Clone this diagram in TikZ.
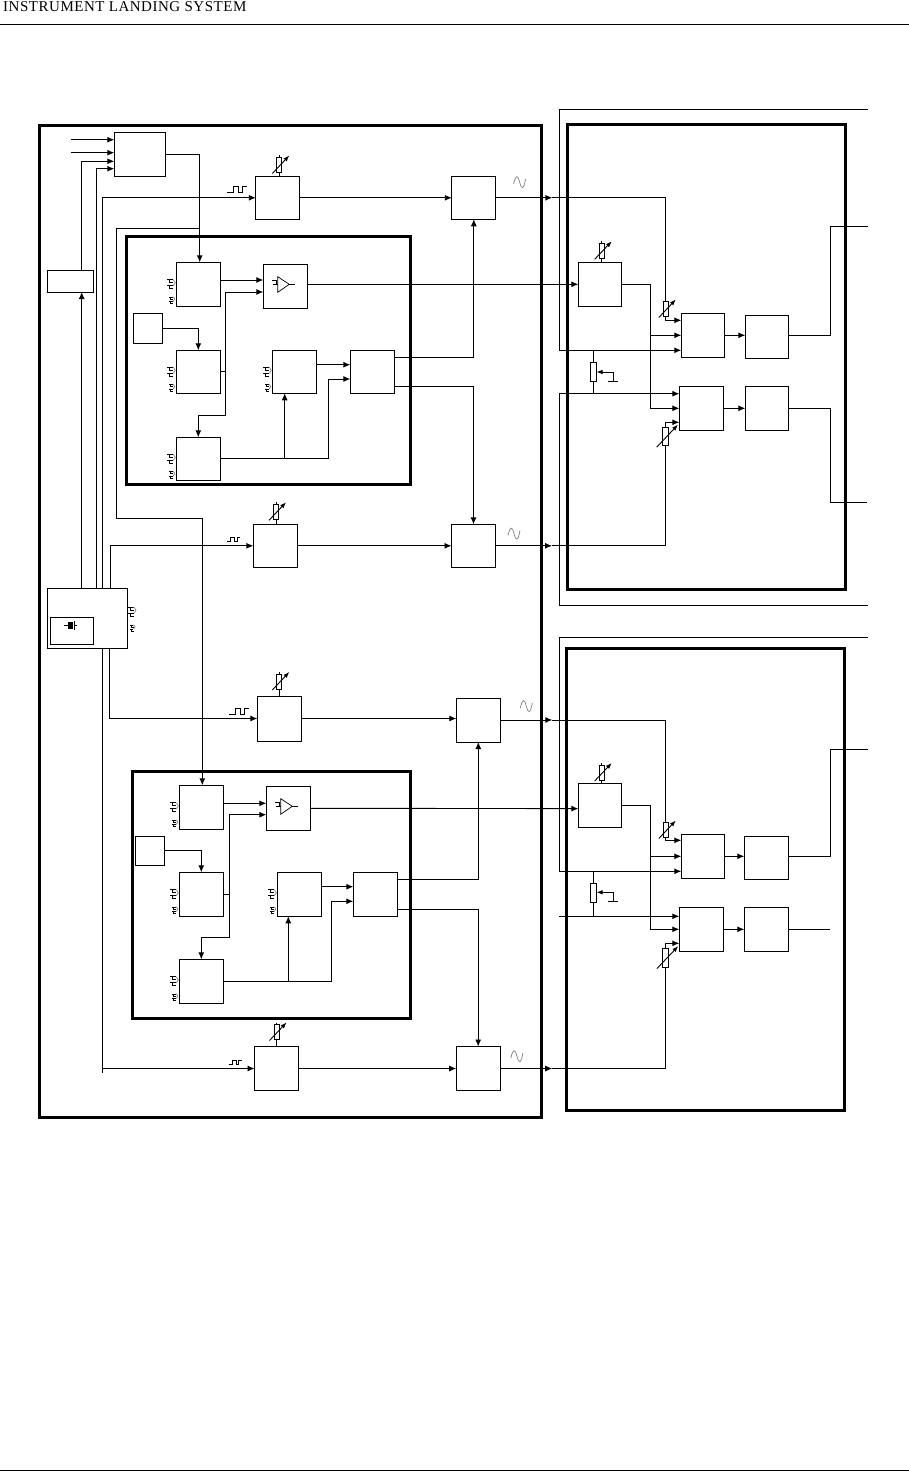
\documentclass[tikz,border=0pt]{standalone}
\usepackage{fontspec}
\setmainfont{Liberation Serif}
\usetikzlibrary{arrows.meta,positioning}

\begin{document}
\begin{tikzpicture}[
        x=1pt,
        y=-1pt,
        blockbox/.style={
            draw,
            line width=0.9pt,
            inner sep=0pt,
            outer sep=0pt,
            minimum width=44pt,
            minimum height=44pt
        },
        potbox/.style={
            draw,
            line width=0.9pt,
            inner sep=0pt,
            outer sep=0pt,
            minimum width=6.4pt,
            minimum height=19pt
        },
        wire/.style={line width=0.9pt},
        arrow/.style={wire, -{Latex[length=7pt, width=6pt]}},
        tinyarrow/.style={wire, -{Latex[length=6pt, width=4.5pt]}},
        glyph/.style={line width=0.7pt},
        frame/.style={line width=3pt},
        pagerule/.style={line width=1pt},
        pics/varres/.style={code={
            \draw[wire] (-2.5,-7.5) rectangle (2.5,7.5);
            \draw[wire] (0,-9.5) -- (0,-7.5) (0,7.5) -- (0,9.5);
            \draw[tinyarrow] (-7,8.5) -- (10,-9.5);
            \coordinate (-top) at (0,-9.5);
            \coordinate (-bot) at (0,9.5);
        }},
        pics/ampmark/.style={code={
            \draw[glyph] (-7.6,-9.6) -- (-7.6,6) -- (4,-2) -- cycle;
            \draw[glyph] (4,-2) -- (10,-2);
            \draw[glyph] (-13.5,-5.5) -- (-8.5,-5.5) -- (-8.5,-1.5) (-12,-2) -- (-7.6,-2);
        }},
        pics/pulsemark/.style={code={
            \draw[glyph] (-4,-4.5) -- (1.5,-4.5) -- (-2,-4.5) (-2,-4.5) -- (-2,-1.5) -- (2,-1.5) (-4,1.5) -- (1.5,1.5) (-2,1.5) -- (-2,4.5) -- (2,4.5);
            \draw[glyph, gray] (2,-4.5) -- (4,-1.5) -- (2,1.5);
        }},
        pics/pulsewave/.style={code={
            \draw[glyph] (0,6) -- (6,6) -- (6,0) -- (11,0) -- (11,6) -- (15,6) -- (15,0) -- (20,0);
        }},
        pics/sinemark/.style={code={
            \draw[glyph, gray] (0,2) .. controls (2,-7) and (4,-8) .. (6,0) .. controls (8,8) and (10,8) .. (12,-3);
        }},
        pics/crystal/.style={code={
            \fill (-2.3,-3.3) rectangle (2.7,3.4);
            \draw[wire] (-6,0) -- (-2.3,0) (4.5,-4.5) -- (4.5,4.5) (4.5,0) -- (7,0);
        }}
    ]
        \useasboundingbox (0,0) rectangle (909,1471);

        \node[anchor=base west, inner sep=0pt, font={\fontspec{Liberation Serif}[LetterSpace=3.5]\fontsize{15}{17}\selectfont}] (pagehead) at (3,11.5) {INSTRUMENT LANDING SYSTEM};
        \coordinate (ruleTopL) at (0,24.5);
        \coordinate (ruleTopR) at (909,24.5);
        \coordinate (ruleLowL) at (0,1470);
        \coordinate (ruleLowR) at (909,1470);
        \draw[pagerule] (ruleTopL) -- (ruleTopR);
        \draw[pagerule] (ruleLowL) -- (ruleLowR);

        \draw[frame] (39.3,125.3) rectangle (541.5,1117.3);
        \draw[frame] (126.7,236.7) rectangle (410.7,484.3);
        \draw[frame] (132.3,771.7) rectangle (410.7,1018);
        \draw[frame] (567.3,124.3) rectangle (845.7,589.3);
        \draw[frame] (566.5,648.3) rectangle (844.7,1110);

        \node[blockbox, minimum width=51pt] (logic) at (139.8,154.3) {};
        \node[blockbox, minimum width=46pt, minimum height=22pt] (select) at (70.3,281) {};
        \node[blockbox, minimum width=80.4pt, minimum height=60pt] (clock) at (87.5,618.3) {};
        \node[blockbox, minimum width=43pt, minimum height=27pt] (xtal) at ([xshift=-15.7pt,yshift=-12.5pt]clock.center) {};

        \node[blockbox, minimum height=43pt] (modA) at (277.8,197.8) {};
        \node[blockbox, minimum height=43pt, right=152pt of modA] (ampA) {};
        \node[blockbox, minimum height=43pt] (modB) at (275.3,545.8) {};
        \node[blockbox, minimum height=43pt, right=154.2pt of modB] (ampB) {};
        \node[blockbox, minimum height=45pt] (modC) at (279.3,718.5) {};
        \node[blockbox, right=155pt of modC, yshift=-1.5pt] (ampC) {};
        \node[blockbox] (modD) at (276.5,1068.5) {};
        \node[blockbox, right=157.7pt of modD] (ampD) {};

        \node[blockbox] (a1) at (198.3,284.3) {};
        \node[blockbox, right=43pt of a1, yshift=-2pt] (a2) {};
        \node[blockbox, minimum height=43pt, below=44pt of a1] (a4) {};
        \node[blockbox, minimum height=43pt, below=44pt of a4] (a7) {};
        \node[blockbox, minimum width=29pt, minimum height=30pt, left=14pt of a4, yshift=43.5pt] (a3) {};
        \node[blockbox, minimum height=43pt, right=52pt of a4] (a5) {};
        \node[blockbox, minimum height=43pt, right=34pt of a5] (a6) {};

        \node[blockbox] (b1) at (201.3,807.3) {};
        \node[blockbox, right=43pt of b1, yshift=-1pt] (b2) {};
        \node[blockbox, below=43pt of b1] (b4) {};
        \node[blockbox, below=43pt of b4] (b7) {};
        \node[blockbox, minimum width=29pt, minimum height=29pt, left=15pt of b4, yshift=43.5pt] (b3) {};
        \node[blockbox, right=54pt of b4] (b5) {};
        \node[blockbox, right=32pt of b5] (b6) {};

        \node[blockbox, minimum width=43pt] (gainA) at (599.8,284.3) {};
        \node[blockbox, minimum width=43pt] (mixA) at (702.8,335.3) {};
        \node[blockbox, minimum width=43pt, minimum height=43pt, right=21pt of mixA, yshift=-1.5pt] (outA) {};
        \node[blockbox] (mixB) at (701.3,408.3) {};
        \node[blockbox, minimum width=43pt, right=22pt of mixB] (outB) {};
        \node[blockbox, minimum width=43pt] (gainB) at (599.8,805.3) {};
        \node[blockbox, minimum width=43pt] (mixC) at (702.8,856.3) {};
        \node[blockbox, minimum height=43pt, right=20pt of mixC, yshift=-1.5pt] (outC) {};
        \node[blockbox] (mixD) at (701.3,929.3) {};
        \node[blockbox, right=21pt of mixD] (outD) {};

        \pic (rbB) at ([xshift=1.5pt,yshift=11.3pt]modA.north) {varres};
        \pic (rbD) at ([xshift=0.7pt,yshift=12.5pt]modB.north) {varres};
        \pic (rbH) at ([yshift=14.5pt]modC.north) {varres};
        \pic (rbL) at ([yshift=14.5pt]modD.north) {varres};
        \pic (rbE) at ([xshift=1.9pt,yshift=11.5pt]gainA.north) {varres};
        \pic (rbM) at ([xshift=1.9pt,yshift=10.8pt]gainB.north) {varres};
        \pic (rbFa) at ([xshift=-15.5pt,yshift=26.3pt]mixA.west) {varres};
        \pic (rbNa) at ([xshift=-15.5pt,yshift=26.3pt]mixC.west) {varres};
        \pic[scale=1.25] (rbFb) at ([xshift=-13.8pt,yshift=-28.2pt]mixB.west) {varres};
        \pic[scale=1.25] (rbNb) at ([xshift=-13.6pt,yshift=-28.7pt]mixD.west) {varres};

        \draw[wire] (rbB-bot) -- (rbB-bot |- modA.north);
        \draw[wire] (rbD-bot) -- (rbD-bot |- modB.north);
        \draw[wire] (rbH-bot) -- (rbH-bot |- modC.north);
        \draw[wire] (rbL-bot) -- (rbL-bot |- modD.north);
        \draw[wire] (rbE-bot) -- (rbE-bot |- gainA.north);
        \draw[wire] (rbM-bot) -- (rbM-bot |- gainB.north);

        \pic at (a2.center) {ampmark};
        \pic at (b2.center) {ampmark};
        \pic at ([xshift=-1.8pt,yshift=5.5pt]xtal.center) {crystal};
        \pic at (132,611.7) {pulsemark};
        \pic[scale=0.7] at (132.3,628) {pulsemark};
        \foreach \blockname in {a1,a4,a5,a7,b1,b4,b5,b7} {
            \pic at ([xshift=-5pt]\blockname.west) {pulsemark};
            \pic[scale=0.75] at ([xshift=-4.5pt,yshift=-16pt]\blockname.west) {pulsemark};
        }
        \pic at ([xshift=-28.5pt,yshift=11pt]modA.west) {pulsewave};
        \pic[scale=0.68] at ([xshift=-26.6pt,yshift=8.8pt]modB.west) {pulsewave};
        \pic at ([xshift=-28pt,yshift=10.5pt]modC.west) {pulsewave};
        \pic[scale=0.68] at ([xshift=-26pt,yshift=8.5pt]modD.west) {pulsewave};
        \pic at ([xshift=17.8pt,yshift=15.8pt]ampA.east) {sinemark};
        \pic at ([xshift=12.5pt,yshift=12.3pt]ampB.east) {sinemark};
        \pic at ([xshift=20pt,yshift=14pt]ampC.east) {sinemark};
        \pic at ([xshift=10.7pt,yshift=12.5pt]ampD.east) {sinemark};

        \coordinate (extA) at (70.7,139.7);
        \coordinate (extB) at (70.7,152.7);
        \coordinate (logicInA) at ([yshift=14.6pt]logic.west);
        \coordinate (logicInB) at ([yshift=1.6pt]logic.west);
        \coordinate (logicInC) at ([yshift=-7pt]logic.west);
        \coordinate (logicInD) at ([yshift=-14.4pt]logic.west);
        \coordinate (clkA) at ([xshift=-5.8pt]clock.north);
        \coordinate (clkB) at ([xshift=9.2pt]clock.north);
        \coordinate (clkC) at ([xshift=14.8pt]clock.north);
        \coordinate (clkD) at ([xshift=23.2pt]clock.north);
        \coordinate (clkE) at ([xshift=14.8pt]clock.south);
        \coordinate (clkF) at ([xshift=21.8pt]clock.south);
        \coordinate (busA) at (116.7,228.3);
        \coordinate (busB) at (116.7,518.3);
        \coordinate (a1In) at ([xshift=1.4pt]a1.north);
        \coordinate (b1In) at ([xshift=1pt]b1.north);

        \draw[arrow] (extA) -- (logicInA);
        \draw[arrow] (extB) -- (logicInB);
        \draw[arrow] (clkA) -- (clkA |- select.south);
        \draw[arrow] (clkA |- select.north) |- (logicInC);
        \draw[arrow] (clkB) |- (logicInD);
        \draw[arrow] (clkC) |- (modA.west);
        \draw[arrow] (clkD) |- (modB.west);
        \draw[arrow] (clkF) |- (modC.west);
        \draw[arrow] (clkE) |- (modD.west);
        \draw[wire] (clkE |- modD.west) -- ++(0,4);
        \draw[arrow] (logic.east) -| (a1In);
        \draw[wire] (busA) -- (busA -| a1In);
        \draw[arrow] (busA) -- (busB) -| (b1In);

        \coordinate (a2InA) at ([yshift=6.3pt]a2.west);
        \coordinate (a2InB) at ([yshift=-5.7pt]a2.west);
        \coordinate (tapA) at ([xshift=5.4pt]a4.east);
        \coordinate (tapB) at ([yshift=-43.2pt]tapA);
        \coordinate (a6InA) at ([yshift=7.1pt]a6.west);
        \coordinate (a6InB) at ([yshift=-7.2pt]a6.west);
        \coordinate (a5In) at ([xshift=-9.6pt]a5.south);
        \coordinate (a6OutA) at ([yshift=14.8pt]a6.east);
        \coordinate (a6OutB) at ([yshift=-14.2pt]a6.east);
        \draw[arrow] (a1.east |- a2InA) -- (a2InA);
        \draw[wire] (a4.east) -- (tapA) -- (tapB);
        \draw[arrow] (tapB) |- (a2InB);
        \draw[arrow] (tapB) -| (a7.north);
        \draw[arrow] (a3.east) -| (a4.north);
        \draw[arrow] (a5.east |- a6InA) -- (a6InA);
        \draw[arrow] (a7.east) -- ++(108,0) |- (a6InB);
        \draw[arrow] (a7.east -| a5In) -- (a5In);
        \draw[arrow] (a6OutA) -| (ampA.south);
        \draw[arrow] (a6OutB) -| (ampB.north);
        \draw[arrow] (a2.east |- gainA.west) -- (gainA.west);
        \draw[arrow] (modA.east) -- (ampA.west);
        \draw[arrow] (modB.east) -- (ampB.west);

        \coordinate (b2InA) at ([yshift=5pt]b2.west);
        \coordinate (b2InB) at ([yshift=-6.4pt]b2.west);
        \coordinate (tapE) at ([xshift=6.4pt]b4.east);
        \coordinate (tapF) at ([yshift=-43.4pt]tapE);
        \coordinate (b6InA) at ([yshift=7.6pt]b6.west);
        \coordinate (b6InB) at ([yshift=-7pt]b6.west);
        \coordinate (b5In) at ([xshift=-11pt]b5.south);
        \coordinate (b6OutA) at ([yshift=15.3pt]b6.east);
        \coordinate (b6OutB) at ([yshift=-15pt]b6.east);
        \coordinate (gainBIn) at ([yshift=-3.3pt]gainB.west);
        \draw[arrow] (b1.east |- b2InA) -- (b2InA);
        \draw[wire] (b4.east) -- (tapE) -- (tapF);
        \draw[arrow] (tapF) |- (b2InB);
        \draw[arrow] (tapF) -| (b7.north);
        \draw[arrow] (b3.east) -| (b4.north);
        \draw[arrow] (b5.east |- b6InA) -- (b6InA);
        \draw[arrow] (b7.east) -- ++(108.4,0) |- (b6InB);
        \draw[arrow] (b7.east -| b5In) -- (b5In);
        \draw[arrow] (b6OutA) -| (ampC.south);
        \draw[arrow] (b6OutB) -| (ampD.north);
        \draw[arrow] (b2.east) -- (gainBIn);
        \draw[arrow] (modC.east) -- (ampC.west |- modC.east);
        \draw[arrow] (modD.east) -- (ampD.west);

        \coordinate (feedA) at ([xshift=56.5pt]ampA.east);
        \coordinate (feedB) at ([xshift=56.5pt]ampB.east);
        \coordinate (feedC) at ([xshift=52pt]ampC.east);
        \coordinate (feedD) at ([xshift=52pt]ampD.east);
        \coordinate (mixAInA) at ([yshift=15pt]mixA.west);
        \coordinate (mixAInC) at ([yshift=-15pt]mixA.west);
        \coordinate (mixBInA) at ([yshift=14.6pt]mixB.west);
        \coordinate (mixBInC) at ([yshift=-14pt]mixB.west);
        \coordinate (mixCInA) at ([yshift=16pt]mixC.west);
        \coordinate (mixCInC) at ([yshift=-15pt]mixC.west);
        \coordinate (mixDInA) at ([yshift=13pt]mixD.west);
        \coordinate (mixDInC) at ([yshift=-14pt]mixD.west);
        \coordinate (trunkA) at ([xshift=29pt]gainA.east);
        \coordinate (trunkB) at ([xshift=29pt]gainB.east);

        \draw[arrow] (ampA.east) -- (feedA);
        \draw[wire] (feedA) -| (rbFa-top);
        \draw[arrow] (rbFa-bot) |- (mixAInA);
        \draw[arrow] (ampB.east) -- (feedB);
        \draw[wire] (feedB) -| (rbFb-bot);
        \draw[arrow] (rbFb-top) |- (mixBInC);
        \draw[arrow] (gainA.east) -- (trunkA) |- (mixB.west);
        \draw[arrow] (trunkA |- mixA.west) -- (mixA.west);
        \draw[arrow] (mixA.east) -- (outA.west |- mixA.east);
        \draw[arrow] (mixB.east) -- (outB.west);

        \draw[arrow] (ampC.east) -- (feedC);
        \draw[wire] (feedC) -| (rbNa-top);
        \draw[arrow] (rbNa-bot) |- (mixCInA);
        \draw[arrow] (ampD.east) -- (feedD);
        \draw[wire] (feedD) -| (rbNb-bot);
        \draw[arrow] (rbNb-top) |- (mixDInC);
        \draw[arrow] (gainB.east) -- (trunkB) |- (mixD.west);
        \draw[arrow] (trunkB |- mixC.west) -- (mixC.west);
        \draw[arrow] (mixC.east) -- (outC.west |- mixC.east);
        \draw[arrow] (mixD.east) -- (outD.west);

        \coordinate (antA) at (868,226.7);
        \coordinate (antB) at (867,502.3);
        \coordinate (antC) at (868,749.3);
        \coordinate (endD) at ([xshift=42pt]outD.east);
        \draw[wire] (outA.east |- mixA.east) -- ++(42,0) |- (antA);
        \draw[wire] (outB.east) -- ++(42,0) |- (antB);
        \draw[wire] (outC.east |- mixC.east) -- ++(42,0) |- (antC);
        \draw[wire] (outD.east) -- (endD);

        \coordinate (shieldAa) at (868,109.3);
        \coordinate (shieldAb) at (559.3,109.3);
        \coordinate (shieldAc) at (868,605.7);
        \coordinate (shieldAd) at (559.3,605.7);
        \coordinate (shieldBa) at (868,637.3);
        \coordinate (shieldBb) at (559.3,637.3);
        \coordinate (shieldBc) at (559.3,916.3);
        \draw[arrow] (shieldAa) -- (shieldAb) |- (mixAInC);
        \draw[arrow] (shieldAc) -- (shieldAd) |- (mixBInA);
        \draw[arrow] (shieldBa) -- (shieldBb) |- (mixCInC);
        \draw[arrow] (shieldBc) -- (mixDInA);

        \node[potbox] (potA) at (593.3,372) {};
        \node[potbox] (potB) at (593.3,893.3) {};
        \coordinate (wipA) at ([xshift=16.5pt]potA.east);
        \coordinate (wipB) at ([xshift=16.5pt,yshift=1pt]potB.east);
        \draw[wire] (potA.north) -- (potA.north |- mixAInC);
        \draw[wire] (potA.south) -- (potA.south |- mixBInA);
        \draw[wire] (potB.north) -- (potB.north |- mixCInC);
        \draw[wire] (potB.south) -- (potB.south |- mixDInA);
        \draw[tinyarrow] (wipA) -- (potA.east);
        \draw[tinyarrow] (wipB) -- (potB.east |- wipB);
        \draw[wire] (wipA) -- ++(0,9) ++(-5,0) -- ++(10,0);
        \draw[wire] (wipB) -- ++(0,9) ++(-5,0) -- ++(10,0);
    \end{tikzpicture}
\end{document}
